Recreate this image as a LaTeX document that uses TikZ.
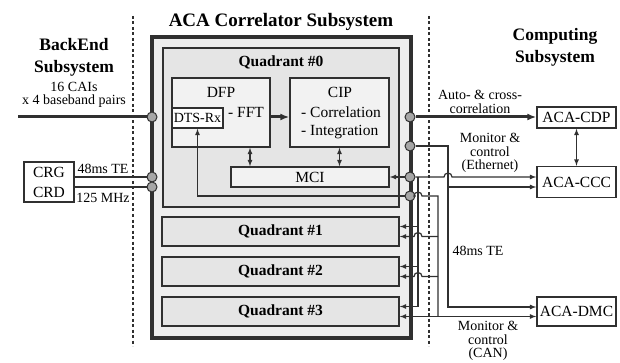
\documentclass[tikz,border=0pt]{standalone}
\usepackage{fontspec}
\setmainfont{Liberation Serif}
\usepackage{tikz}
\usetikzlibrary{calc}
\usetikzlibrary{arrows.meta}
\usetikzlibrary{positioning}
\tikzset{>=latex}
\definecolor{wire}{HTML}{303030}
\tikzstyle{box} = [rectangle, draw=wire, line width=1.4pt, inner sep=0pt]
\tikzstyle{port} = [circle, draw=wire, fill=gray!70, line width=1pt, minimum size=10pt, inner sep=0pt]
\tikzstyle{wireline} = [draw=wire, line width=1.2pt]
\tikzstyle{bus} = [draw=wire, line width=3pt]
\tikzstyle{sep} = [draw=wire, line width=1.4pt, dash pattern=on 3pt off 2.5pt]
\tikzstyle{lbl} = [font=\fontsize{14}{13.5}\selectfont, align=center]
\tikzstyle{head} = [font=\bfseries\fontsize{17.5}{22}\selectfont, align=center]
\tikzstyle{quadtext} = [font=\bfseries\fontsize{15.5}{18}\selectfont]

\begin{document}
\begin{tikzpicture}[x=1pt, y=-1pt, font=\fontsize{15.5}{20}\selectfont]
\useasboundingbox (0,0) rectangle (620,363);
\draw[sep] (133,16) -- (133,346);
\draw[sep] (429,16) -- (429,346);
\node[head] at (281,22) {\fontsize{19}{22}\selectfont ACA Correlator Subsystem};
\node[head] at (74,57) {BackEnd\\Subsystem};
\node[head] at (555,47) {Computing\\Subsystem};
\node[box, line width=3.5pt, fill=gray!14, minimum width=259pt, minimum height=301pt] (aca) at (281.5,187.5) {};
\node[box, fill=gray!20, minimum width=236pt, minimum height=159pt] (quad0) at (281,127.5) {};
\node[quadtext] at (281,62) {Quadrant \#0};
\node[box, fill=gray!10, minimum width=98pt, minimum height=69pt] (dfp) at (221,112.5) {};
\node at (221,92) {DFP};
\node[box, fill=white, minimum width=51pt, minimum height=20pt, font=\fontsize{14}{16}\selectfont] (dtsrx) at (197.5,118) {DTS-Rx};
\node at (246,112) {- FFT};
\node[box, fill=gray!10, minimum width=99pt, minimum height=69pt] (cip) at (339.5,112.5) {};
\node at (340,92) {CIP};
\node[anchor=west, inner sep=0pt] at (301,112) {- Correlation};
\node[anchor=west, inner sep=0pt] at (301,132) {- Integration};
\node[box, fill=gray!10, minimum width=158pt, minimum height=20pt] (mci) at (310,177) {MCI};
\foreach \n/\y in {1/231.5, 2/271.5, 3/311.5}
  \node[box, quadtext, fill=gray!20, minimum width=237pt, minimum height=29pt] (quad\n) at (280.5,\y) {Quadrant \#\n};
\node[box, fill=white, minimum width=79pt, minimum height=21pt] (cdp) at (576.5,117.5) {ACA-CDP};
\node[box, fill=white, minimum width=79pt, minimum height=31pt] (ccc) at (576.5,182) {ACA-CCC};
\node[box, fill=white, minimum width=79pt, minimum height=29pt] (dmc) at (576.5,311.5) {ACA-DMC};
\node[box, fill=white, minimum width=50pt, minimum height=40pt, align=center] (crg) at (49,182) {CRG\\CRD};
\node[port] (inCAI) at (152,117) {};
\node[port] (inTE) at (152,177) {};
\node[port] (inClk) at (152,187) {};
\node[port] (outCorr) at (410,117) {};
\node[port] (outTE) at (410,146) {};
\node[port] (outEth) at (410,177) {};
\node[port] (outCAN) at (410,196) {};
\coordinate (caiin) at (18,117);
\coordinate (eth) at (418,0);
\coordinate (can) at (438,0);
\coordinate (te) at (448,0);
\coordinate (cccTE) at ([yshift=-5pt]ccc.west);
\coordinate (dmcTE) at ([yshift=4.5pt]dmc.west);
\foreach \n in {1,2,3} {
  \coordinate (qup\n) at ([yshift=5pt]quad\n.east);
  \coordinate (qlo\n) at ([yshift=-5pt]quad\n.east);
}
\draw[bus] (caiin) -- (inCAI);
\draw[wireline] (crg.east |- inTE) -- (inTE);
\draw[wireline] (crg.east |- inClk) -- (inClk);
\draw[bus, -{Latex[length=9pt,width=7pt]}] (outCorr) -- (cdp.west |- outCorr);
\draw[bus, -{Latex[length=9pt,width=7pt]}] (dfp.east |- inCAI) -- (cip.west |- inCAI);
\draw[wireline, <->] (cdp) -- (ccc);
\draw[wireline, <->] (dfp.south -| 250,0) -- (mci.north -| 250,0);
\draw[wireline, <->] (cip.south) -- (cip.south |- mci.north);
\draw[wireline, ->] (outCAN) -| (dtsrx.south);
\draw[wireline, ->] (outEth) -- (mci);
\draw[wireline, ->] (outEth) -- ($(te |- outEth)+(-4,0)$) arc[start angle=180, end angle=0, radius=4pt] -- (ccc.west |- outEth);
\draw[wireline, ->] (outTE) -| (dmcTE -| te) -- (dmcTE);
\draw[wireline, ->] (cccTE -| te) -- (cccTE);
\draw[wireline] (eth |- outEth) -- (eth |- qup3);
\foreach \n in {1,2,3}
  \draw[wireline, <-] (qup\n) -- (qup\n -| eth);
\foreach \n in {1,2}
  \draw[wireline, <-] (qlo\n) -- ($(qlo\n -| eth)+(-4,0)$) arc[start angle=180, end angle=0, radius=4pt] -- (qlo\n -| can);
\draw[wireline, <->] (qlo3) -- (dmc.west |- qlo3);
\draw[wireline] (outCAN) -- ($(eth |- outCAN)+(-4,0)$) arc[start angle=180, end angle=0, radius=4pt] -- (can |- outCAN) -- (can |- qlo3);
\node[lbl] at (74,95) {\fontsize{14}{13}\selectfont 16 CAIs\\x 4 baseband pairs};
\node[lbl] at (103,169) {48ms TE};
\node[lbl] at (103,198) {125 MHz};
\node[lbl] at (480,102) {Auto- \& cross-\\correlation};
\node[lbl] at (490,153) {Monitor \&\\control\\(Ethernet)};
\node[lbl] at (478,251) {48ms TE};
\node[lbl] at (488,341) {Monitor \&\\control\\(CAN)};
\end{tikzpicture}
\end{document}
